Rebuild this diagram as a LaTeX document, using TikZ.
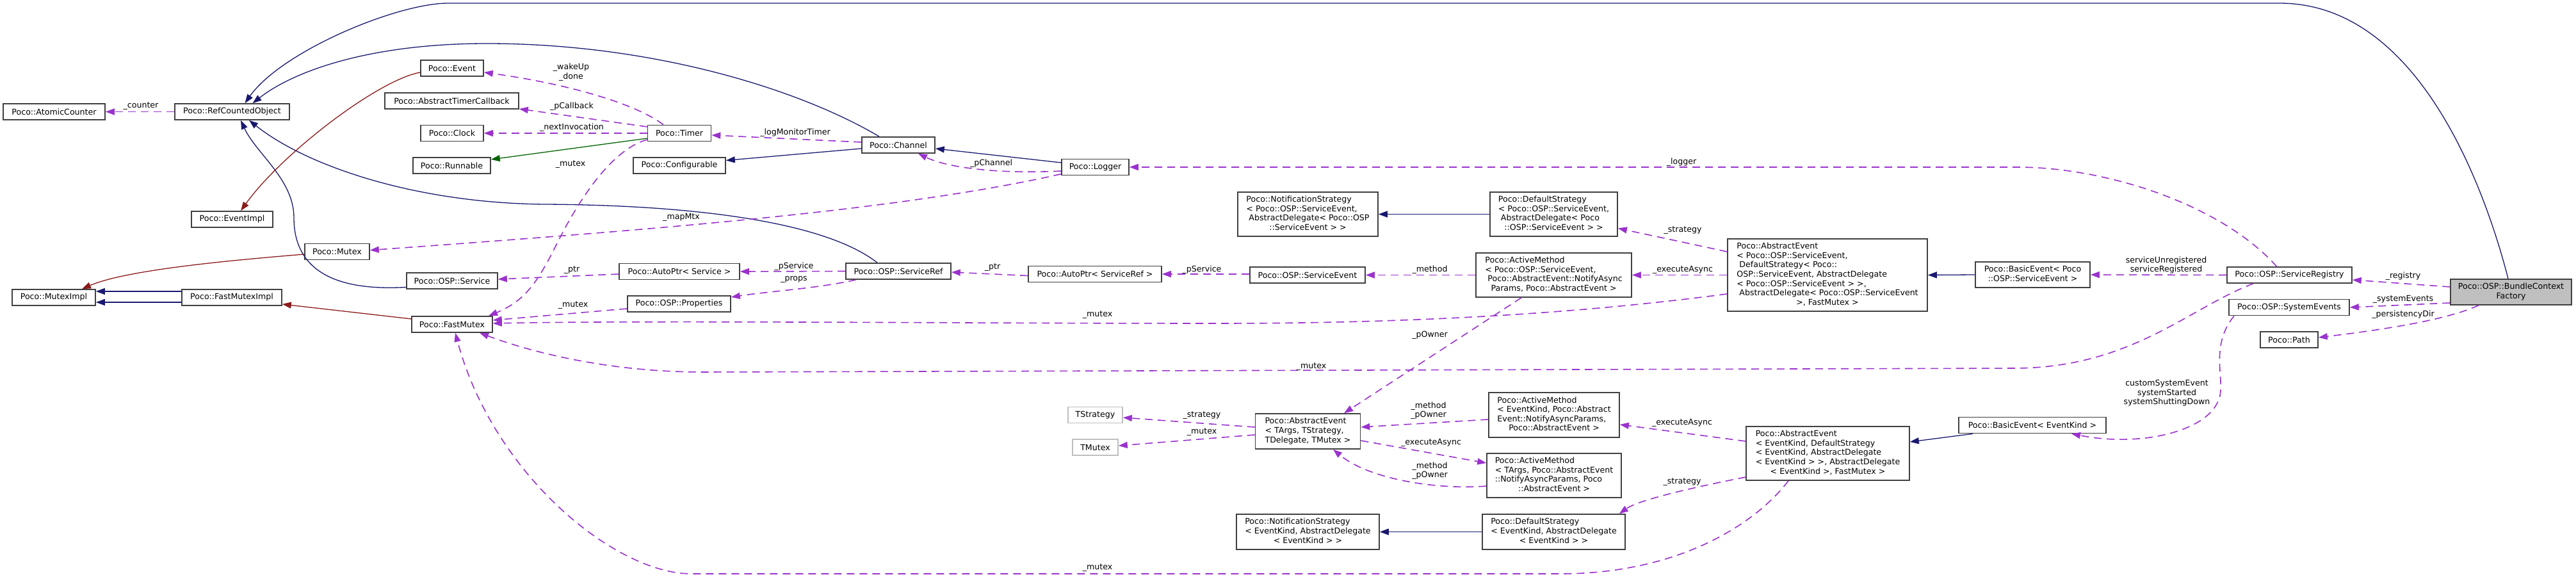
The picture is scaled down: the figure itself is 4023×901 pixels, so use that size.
\documentclass[tikz,border=0pt]{standalone}
\usepackage{fontspec}
\setmainfont{DejaVu Sans}
\usetikzlibrary{arrows.meta}
\definecolor{navyc}{HTML}{191970}
\definecolor{usec}{HTML}{9A32CD}
\definecolor{privc}{HTML}{8B1A1A}
\definecolor{protc}{HTML}{006400}
\definecolor{bordc}{HTML}{404040}
\definecolor{lightb}{HTML}{BFBFBF}
\definecolor{bcfill}{HTML}{BFBFBF}
\newcommand\nodefont{\fontsize{12.6}{14.6}\selectfont}
\newcommand\mlbox[1]{\begin{tabular}{@{}l@{}}#1\end{tabular}}
\newcommand\lastcen[1]{\multicolumn{1}{@{}c@{}}{#1}}
\begin{document}
\begin{tikzpicture}[x=1pt,y=-1pt,
  box/.style={draw=bordc,line width=1.6pt,fill=white,inner sep=0pt,font=\nodefont},
  ghost/.style={draw=lightb,line width=1.6pt,fill=white,inner sep=0pt,font=\nodefont},
  sz/.style 2 args={minimum width=#1pt,minimum height=#2pt},
  lbl/.style={font=\nodefont,inner sep=0pt,align=center},
  tip/.style={-{Triangle[length=14pt,width=10pt]}},
  inh/.style={tip,draw=navyc,line width=1.3pt},
  priv/.style={tip,draw=privc,line width=1.3pt},
  prot/.style={tip,draw=protc,line width=1.3pt},
  use/.style={tip,draw=usec,line width=1.6pt,dash pattern=on 12pt off 8pt}]
\useasboundingbox (0,0) rectangle (4023,901);

% ---------- nodes ----------
\node[box,sz={159}{25}] (ac) at (84.5,174.5) {Poco::AtomicCounter};
\node[box,sz={179}{25}] (rco) at (362.5,174.5) {Poco::RefCountedObject};
\node[box,sz={98}{25}] (ev) at (706,106.5) {Poco::Event};
\node[box,sz={209}{25}] (atc) at (705.5,157.5) {Poco::AbstractTimerCallback};
\node[box,sz={98}{25}] (clk) at (706,208) {Poco::Clock};
\node[box,sz={121}{25}] (run) at (705.5,258.5) {Poco::Runnable};
\node[box,sz={127}{25}] (evi) at (362.5,342.5) {Poco::EventImpl};
\node[box,sz={101}{25}] (mtx) at (526.5,393) {Poco::Mutex};
\node[box,sz={142}{25}] (svc) at (706,438.5) {Poco::OSP::Service};
\node[box,sz={130}{25}] (mi) at (84,464.5) {Poco::MutexImpl};
\node[box,sz={156}{25}] (fmi) at (362,464.5) {Poco::FastMutexImpl};
\node[box,sz={126}{25}] (fm) at (706,506.5) {Poco::FastMutex};
\node[box,sz={99}{25}] (tmr) at (1061,208) {Poco::Timer};
\node[box,sz={144}{25}] (cfg) at (1061,258.5) {Poco::Configurable};
\node[box,sz={188}{25}] (aps) at (1061,424) {Poco::AutoPtr< Service >};
\node[box,sz={161}{25}] (props) at (1060.5,474.5) {Poco::OSP::Properties};
\node[box,sz={114}{25}] (ch) at (1403,226.5) {Poco::Channel};
\node[box,sz={105}{25}] (lg) at (1710.5,261) {Poco::Logger};
\node[box,sz={164}{25}] (sr) at (1403,423.5) {Poco::OSP::ServiceRef};
\node[box,sz={208}{25}] (apsr) at (1710,428) {Poco::AutoPtr< ServiceRef >};
\node[box,sz={180}{25}] (se) at (2042,429.5) {Poco::OSP::ServiceEvent};
\node[box,sz={219}{69}] (nso) at (2042.5,334.5) {\mlbox{Poco::NotificationStrategy\\< Poco::OSP::ServiceEvent,\\\ AbstractDelegate< Poco::OSP\\\lastcen{::ServiceEvent > >}}};
\node[box,sz={199}{69}] (dso) at (2426.5,334.5) {\mlbox{Poco::DefaultStrategy\\< Poco::OSP::ServiceEvent,\\\ AbstractDelegate< Poco\\\lastcen{::OSP::ServiceEvent > >}}};
\node[box,sz={243}{69}] (amo) at (2426.5,429.5) {\mlbox{Poco::ActiveMethod\\< Poco::OSP::ServiceEvent,\\\ Poco::AbstractEvent::NotifyAsync\\\lastcen{Params, Poco::AbstractEvent >}}};
\node[box,sz={312}{113}] (aeo) at (2854,429.5) {\mlbox{Poco::AbstractEvent\\< Poco::OSP::ServiceEvent,\\\ DefaultStrategy< Poco::\\OSP::ServiceEvent, AbstractDelegate\\< Poco::OSP::ServiceEvent > >,\\\ AbstractDelegate< Poco::OSP::ServiceEvent\\\lastcen{>, FastMutex >}}};
\node[box,sz={179}{40}] (beo) at (3174.5,429) {\mlbox{Poco::BasicEvent< Poco\\\lastcen{::OSP::ServiceEvent >}}};
\node[box,sz={195}{25}] (reg) at (3575.5,429.5) {Poco::OSP::ServiceRegistry};
\node[box,sz={188}{25}] (sys) at (3575,480) {Poco::OSP::SystemEvents};
\node[box,sz={90}{25}] (path) at (3575,530.5) {Poco::Path};
\node[box,fill=bcfill,sz={189}{40}] (bcf) at (3921.5,456) {\mlbox{Poco::OSP::BundleContext\\\lastcen{Factory}}};
\node[ghost,sz={85}{25}] (tst) at (1710.5,648) {TStrategy};
\node[ghost,sz={71}{25}] (tmx) at (1710.5,698.5) {TMutex};
\node[box,sz={164}{55}] (aet) at (2042.5,673.5) {\mlbox{Poco::AbstractEvent\\< TArgs, TStrategy,\\\lastcen{TDelegate, TMutex >}}};
\node[box,sz={204}{70}] (amk) at (2427,648) {\mlbox{Poco::ActiveMethod\\< EventKind, Poco::Abstract\\Event::NotifyAsyncParams,\\\lastcen{Poco::AbstractEvent >}}};
\node[box,sz={210}{69}] (amt) at (2427,742.5) {\mlbox{Poco::ActiveMethod\\< TArgs, Poco::AbstractEvent\\::NotifyAsyncParams, Poco\\\lastcen{::AbstractEvent >}}};
\node[box,sz={223}{55}] (nsk) at (2042.5,830.5) {\mlbox{Poco::NotificationStrategy\\< EventKind, AbstractDelegate\\\lastcen{< EventKind > >}}};
\node[box,sz={223}{55}] (dsk) at (2426.5,830.5) {\mlbox{Poco::DefaultStrategy\\< EventKind, AbstractDelegate\\\lastcen{< EventKind > >}}};
\node[box,sz={255}{84}] (aek) at (2854.5,708) {\mlbox{Poco::AbstractEvent\\< EventKind, DefaultStrategy\\< EventKind, AbstractDelegate\\< EventKind > >, AbstractDelegate\\\lastcen{< EventKind >, FastMutex >}}};
\node[box,sz={230}{25}] (bek) at (3174,664) {Poco::BasicEvent< EventKind >};

% ---------- inheritance (navy) ----------
\draw[inh] ([xshift=-4.5pt]bcf.north) .. controls (3890,330) and (3790,5) .. (3560,5) -- (700,5) .. controls (620,5) and (440,80) .. ([xshift=20pt]rco.north);
\draw[inh] ([xshift=-30pt]ch.north) .. controls (1250,140) and (1020,68) .. (760,68) .. controls (580,68) and (460,110) .. ([xshift=32pt]rco.north);
\draw[inh] ([yshift=-10pt]svc.west) .. controls (520,455) and (459,420) .. (459,340) .. controls (459,280) and (400,240) .. ([xshift=13.5pt]rco.south);
\draw[inh] ([xshift=-33pt]sr.north) .. controls (1280,340) and (1050,320) .. (850,319) .. controls (650,317) and (480,260) .. ([xshift=26.5pt]rco.south);
\draw[inh] ([yshift=-5.5pt]ch.west) -- ([yshift=8pt]cfg.east);
\draw[inh] ([yshift=7pt]lg.west) -- ([yshift=-5.5pt]ch.east);
\draw[inh] (dso.west) -- (nso.east);
\draw[inh] (beo.west) -- (aeo.east);
\draw[inh] (dsk.west) -- (nsk.east);
\draw[inh] ([xshift=23pt]bek.south west) -- ([yshift=18pt]aek.east);
\draw[inh] ([yshift=9.5pt]fmi.west) -- ([yshift=9.5pt]mi.east);
\draw[inh] ([yshift=-7.5pt]fmi.west) -- ([yshift=-7.5pt]mi.east);

% ---------- protected / private ----------
\draw[prot] ([yshift=-8pt]tmr.west) -- ([yshift=9.5pt]run.east);
\draw[priv] ([yshift=-6.5pt]ev.west) .. controls (590,125) and (440,240) .. ([xshift=13.5pt]evi.north);
\draw[priv] ([yshift=-4pt]mtx.west) .. controls (380,405) and (200,420) .. ([xshift=44pt]mi.north);
\draw[priv] ([yshift=8.5pt]fm.west) -- ([yshift=-10.5pt]fmi.east);

% ---------- usage (dashed) ----------
\draw[use] (rco.west) -- (ac.east);
\draw[use] ([xshift=-25pt]tmr.north) .. controls (990,160) and (880,130) .. ([yshift=-6.5pt]ev.east);
\draw[use] ([yshift=10pt]tmr.west) -- ([yshift=-12.5pt]atc.east);
\draw[use] (tmr.west) -- (clk.east);
\draw[use] ([yshift=-10pt]tmr.west) .. controls (960,232) and (910,300) .. (870,380) .. controls (840,440) and (820,470) .. ([xshift=57pt]fm.north);
\draw[use] ([yshift=4.5pt]ch.west) -- ([yshift=-3pt]tmr.east);
\draw[use] ([yshift=-6pt]lg.west) .. controls (1560,272) and (1480,262) .. ([xshift=31pt]ch.south);
\draw[use] ([yshift=-10.7pt]lg.west) .. controls (1400,330) and (1000,360) .. ([yshift=2.3pt]mtx.east);
\draw[use] ([xshift=-20pt]reg.north) .. controls (3470,320) and (3290,261) .. (3150,261) -- (lg.east);
\draw[use] ([yshift=-4pt]aps.west) -- ([yshift=2.5pt]svc.east);
\draw[use] (sr.west) -- (aps.east);
\draw[use] ([xshift=-66pt]sr.south) .. controls (1280,450) and (1200,455) .. ([yshift=10.5pt]props.east);
\draw[use] ([yshift=-7.5pt]props.west) -- ([yshift=6.5pt]fm.east);
\draw[use] ([yshift=-2.5pt]apsr.west) -- ([yshift=-1.5pt]sr.east);
\draw[use] ([yshift=1.5pt]se.west) -- (apsr.east);
\draw[use] (amo.west) -- (se.east);
\draw[use] (aeo.west) -- (amo.east);
\draw[use] ([yshift=36.5pt]aeo.west) -- ([yshift=-22pt]dso.east);
\draw[use] ([yshift=-29.5pt]aeo.west) .. controls (2500,485) and (2250,505) .. (1900,505) .. controls (1500,505) and (1000,500) .. ([yshift=1.5pt]fm.east);
\draw[use] ([xshift=-56.5pt]reg.south) .. controls (3420,480) and (3330,573) .. (3150,575) -- (1100,581) .. controls (950,581) and (830,550) .. ([xshift=43pt]fm.south);
\draw[use] ([xshift=-50.5pt]amo.south) -- ([xshift=56.5pt]aet.north);
\draw[use] ([yshift=6.5pt]aet.west) -- ([yshift=-4pt]tst.east);
\draw[use] ([yshift=-5.5pt]aet.west) -- ([yshift=2.5pt]tmx.east);
\draw[use] ([yshift=-7pt]amk.west) -- ([yshift=6.5pt]aet.east);
\draw[use] ([yshift=-14.5pt]aet.east) -- ([yshift=19.5pt]amt.west);
\draw[use] ([yshift=-16.5pt]amt.west) .. controls (2250,765) and (2140,750) .. ([xshift=39.5pt]aet.south);
\draw[use] ([yshift=19pt]aek.west) -- ([yshift=-15pt]amk.east);
\draw[use] ([yshift=-37pt]aek.west) .. controls (2650,760) and (2560,780) .. ([xshift=-10pt]dsk.north east);
\draw[use] ([xshift=-61.5pt]aek.south) .. controls (2740,820) and (2620,895) .. (2440,896) -- (1080,896) .. controls (960,896) and (770,740) .. ([xshift=5pt]fm.south);
\draw[use] (reg.west) -- (beo.east);
\draw[use] ([yshift=8pt]bcf.west) -- ([yshift=-7.5pt]reg.east);
\draw[use] ([yshift=-17pt]bcf.west) -- (sys.east);
\draw[use] ([xshift=-50.5pt]bcf.south) .. controls (3820,500) and (3720,515) .. ([yshift=3.5pt]path.east);
\draw[use] ([xshift=-86pt]sys.south) .. controls (3455,535) and (3470,580) .. (3468,610) .. controls (3465,670) and (3350,700) .. ([xshift=61pt]bek.south);

% ---------- edge labels ----------
\node[lbl] (l1) at (220,166) {\_counter};
\node[lbl] (l2) at (892,113) {\_wakeUp\\\_done};
\node[lbl] (l3) at (893,166) {\_pCallback};
\node[lbl] (l4) at (893,199) {\_nextInvocation};
\node[lbl] (l5) at (891,257) {\_mutex};
\node[lbl] (l6) at (1242,207) {\_logMonitorTimer};
\node[lbl] (l7) at (1548,255) {\_pChannel};
\node[lbl] (l8) at (1064,339) {\_mapMtx};
\node[lbl] (l9) at (2626,253) {\_logger};
\node[lbl] (l10) at (893,422) {\_ptr};
\node[lbl] (l11) at (1240,416) {\_pService};
\node[lbl] (l12) at (1240,436) {\_props};
\node[lbl] (l13) at (895,477) {\_mutex};
\node[lbl] (l14) at (1550,418) {\_ptr};
\node[lbl] (l15) at (1877,421) {\_pService};
\node[lbl] (l16) at (2233,421) {\_method};
\node[lbl] (l17) at (2628,421) {\_executeAsync};
\node[lbl] (l18) at (2628,360) {\_strategy};
\node[lbl] (l19) at (1714,492) {\_mutex};
\node[lbl] (l20) at (2048,573) {\_mutex};
\node[lbl] (l21) at (2233,523) {\_pOwner};
\node[lbl] (l22) at (1877,649) {\_strategy};
\node[lbl] (l23) at (1877,675) {\_mutex};
\node[lbl] (l24) at (2231,641) {\_method\\\_pOwner};
\node[lbl] (l25) at (2235,691) {\_executeAsync};
\node[lbl] (l26) at (2233,735) {\_method\\\_pOwner};
\node[lbl] (l27) at (2627,660) {\_executeAsync};
\node[lbl] (l28) at (2627,753) {\_strategy};
\node[lbl] (l29) at (1714,887) {\_mutex};
\node[lbl] (l30) at (3383,414) {serviceUnregistered\\serviceRegistered};
\node[lbl] (l31) at (3753,431) {\_registry};
\node[lbl] (l32) at (3753,467) {\_systemEvents};
\node[lbl] (l33) at (3753,491) {\_persistencyDir};
\node[lbl] (l34) at (3384,614) {customSystemEvent\\systemStarted\\systemShuttingDown};
\end{tikzpicture}
\end{document}
